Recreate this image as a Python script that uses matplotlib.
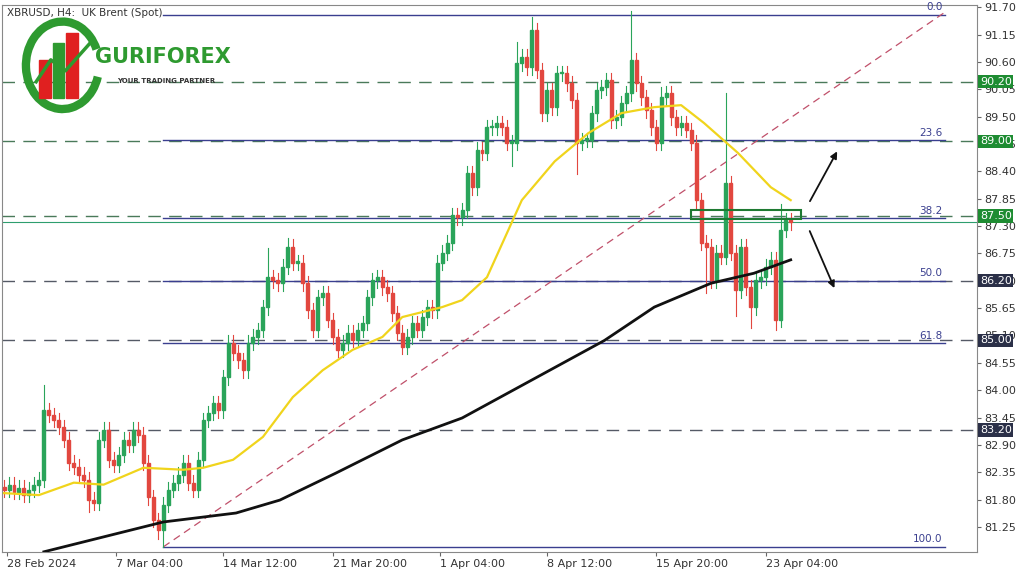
import matplotlib.pyplot as plt
from matplotlib.patches import Rectangle, Arc

# close prices, one candle per 5 px (H4 bars, thinned)
closes = [
    82.00, 82.10, 81.96, 82.04, 81.90, 82.00, 82.10, 82.20, 83.60, 83.50,
    83.40, 83.26, 83.00, 82.54, 82.46, 82.30, 82.20, 81.80, 81.74, 83.00,
    83.20, 82.60, 82.50, 82.70, 83.00, 82.90, 83.20, 83.10, 82.54, 81.85,
    81.39, 81.19, 81.70, 82.00, 82.14, 82.30, 82.54, 82.14, 82.00, 82.60,
    83.40, 83.54, 83.74, 83.60, 84.26, 84.95, 84.75, 84.60, 84.40, 84.95,
    85.07, 85.21, 85.67, 86.27, 86.21, 86.15, 86.48, 86.88, 86.56, 86.56,
    86.15, 85.61, 85.21, 85.87, 85.95, 85.41, 85.07, 84.81, 84.95, 85.15,
    85.01, 85.21, 85.35, 85.87, 86.21, 86.27, 86.07, 85.95, 85.55, 85.15,
    84.87, 85.07, 85.35, 85.21, 85.47, 85.67, 85.61, 86.56, 86.76, 86.96,
    87.52, 87.48, 87.62, 88.36, 88.08, 88.83, 88.77, 89.29, 89.29, 89.37,
    89.29, 88.97, 88.97, 90.57, 90.70, 90.49, 91.24, 90.43, 89.57, 90.03,
    89.69, 90.37, 90.37, 90.17, 89.83, 88.97, 89.03, 89.03, 89.57, 90.03,
    90.09, 90.23, 89.43, 89.49, 89.77, 89.97, 90.63, 90.17, 89.89, 89.63,
    89.29, 88.97, 89.89, 89.97, 89.49, 89.29, 89.37, 89.23, 88.97, 87.82,
    86.96, 86.88, 86.21, 86.76, 86.68, 88.16, 86.76, 86.01, 86.88, 86.07,
    85.67, 86.21, 86.27, 86.48, 86.62, 85.41, 87.22, 87.42, 87.38,
]
first_open = 82.05
wick = 0.15
# notable wick extremes: candle index -> price
spike_highs = {8: 84.10, 53: 86.85, 57: 87.05, 103: 91.00, 106: 91.50, 126: 91.62,
               145: 89.97, 132: 90.10, 156: 87.75}
spike_lows = {17: 81.55, 32: 80.85, 31: 81.00, 102: 88.50, 115: 88.35, 141: 85.95,
              150: 85.25, 155: 85.20, 147: 85.50}

# moving averages (candle index, price)
ma_fast_x = [0, 7, 14, 20, 28, 36, 40, 46, 52, 58, 64, 70, 76, 80, 84, 88, 92, 97,
             104, 110.6, 117.4, 124, 130.6, 136, 140.6, 147.4, 154, 158]
ma_fast_y = [81.93, 81.89, 82.14, 82.10, 82.44, 82.40, 82.44, 82.60, 83.06, 83.86,
             84.40, 84.81, 85.07, 85.47, 85.57, 85.67, 85.81, 86.27, 87.82, 88.60,
             89.17, 89.57, 89.69, 89.73, 89.37, 88.77, 88.08, 87.82]
ma_slow_x = [8, 20, 32, 46.6, 55.4, 66.6, 80, 92, 120.6, 130.6, 142, 150.6, 158]
ma_slow_y = [80.75, 81.05, 81.35, 81.53, 81.79, 82.33, 83.00, 83.44, 85.00, 85.67,
             86.15, 86.35, 86.62]

fib_levels = [91.55, 89.02, 87.46, 86.20, 84.94, 80.85]
fib_labels = ["0.0", "23.6", "38.2", "50.0", "61.8", "100.0"]
key_levels = [90.20, 89.00, 87.50, 86.20, 85.00, 83.20]
key_colors = ["#1e8c32", "#1e8c32", "#1e8c32", "#2b3048", "#2b3048", "#2b3048"]
y_ticks = [91.70, 91.15, 90.60, 90.05, 89.50, 88.95, 88.40, 87.85, 87.30, 86.75,
           86.20, 85.65, 85.10, 84.55, 84.00, 83.45, 82.90, 82.35, 81.80, 81.25]
date_pos = [0.6, 22.4, 44, 66, 87.6, 109, 131, 153]
date_labels = ["28 Feb 2024", "7 Mar 04:00", "14 Mar 12:00", "21 Mar 20:00",
               "1 Apr 04:00", "8 Apr 12:00", "15 Apr 20:00", "23 Apr 04:00"]

GREEN = "#2aa45a"
RED = "#e2473f"
NAVY = "#3a3f8f"

fig = plt.figure(figsize=(10.24, 5.76), dpi=100)
ax = fig.add_axes([0.002, 0.042, 0.952, 0.949])
ax.set_xlim(-0.4, 195.4)
ax.set_ylim(80.75, 91.74)

# dashed key levels across the whole chart
for lvl, col in zip(key_levels, key_colors):
    ax.axhline(lvl, color="#4a7a5a" if col != "#2b3048" else "#555a66", lw=1,
               ls=(0, (9, 6)), zorder=1)
ax.axhline(87.38, color="#2e9e6e", lw=0.8, zorder=1)

# fibonacci lines
for lvl, lab in zip(fib_levels, fib_labels):
    ax.plot([32, 189], [lvl, lvl], color=NAVY, lw=1, zorder=2)
    ax.text(188.5, lvl + 0.05, lab, color=NAVY, fontsize=7.5, ha="right", va="bottom")

# trend line
ax.plot([32, 189], [80.85, 91.6], color="#c0506a", lw=0.9, ls=(0, (6, 4)), zorder=2)

# candles
prev = first_open
for i, c in enumerate(closes):
    o = prev
    hi = spike_highs.get(i, max(o, c) + wick)
    lo = spike_lows.get(i, min(o, c) - wick)
    col = GREEN if c >= o else RED
    ax.plot([i, i], [lo, hi], color=col, lw=0.8, zorder=3)
    ax.add_patch(Rectangle((i - 0.3, min(o, c)), 0.6, max(abs(c - o), 0.03),
                           color=col, zorder=4))
    prev = c

ax.plot(ma_fast_x, ma_fast_y, color="#f0d41c", lw=1.6, zorder=5)
ax.plot(ma_slow_x, ma_slow_y, color="#111111", lw=2, zorder=5)

# box and arrows
ax.add_patch(Rectangle((138, 87.45), 22, 0.17, fill=False, ec="#1e7a32", lw=1.5, zorder=6))
ax.annotate("", xy=(167.6, 88.85), xytext=(161.6, 87.75),
            arrowprops=dict(arrowstyle="-|>", color="#111111", lw=1.3))
ax.annotate("", xy=(167, 86.0), xytext=(161.6, 87.25),
            arrowprops=dict(arrowstyle="-|>", color="#111111", lw=1.3))

# axes styling
ax.yaxis.tick_right()
ax.set_yticks(y_ticks)
ax.set_yticklabels([f"{v:.2f}" for v in y_ticks], fontsize=8, color="#333333")
ax.set_xticks(date_pos)
ax.set_xticklabels(date_labels, fontsize=8, color="#333333", ha="left")
ax.tick_params(length=3, colors="#666666", labelcolor="#333333", pad=2)
for s in ax.spines.values():
    s.set_color("#888888")
    s.set_linewidth(0.8)

for lvl, col in zip(key_levels, key_colors):
    ax.text(1.003, lvl, f"{lvl:.2f}", transform=ax.get_yaxis_transform(),
            fontsize=8, color="white", va="center", ha="left", zorder=10,
            bbox=dict(boxstyle="square,pad=0.15", fc=col, ec="none"))

ax.text(0.005, 0.995, "XBRUSD, H4:  UK Brent (Spot)", transform=ax.transAxes,
        fontsize=7.5, color="#333333", va="top", ha="left")

# logo
ax.text(0.095, 0.905, "GURIFOREX", transform=ax.transAxes, fontsize=15,
        fontweight="bold", color="#2e9a30", va="center", family="DejaVu Sans")
ax.text(0.118, 0.862, "YOUR TRADING PARTNER", transform=ax.transAxes, fontsize=5,
        fontweight="bold", color="#333333", va="center")
ax.add_patch(Arc((0.062, 0.89), 0.075, 0.16, theta1=40, theta2=330,
                 transform=ax.transAxes, color="#2e9a30", lw=6, zorder=7))
for bx, bh, bc in [(0.038, 0.07, "#e02020"), (0.052, 0.10, "#2e9a30"), (0.066, 0.12, "#e02020")]:
    ax.add_patch(Rectangle((bx, 0.83), 0.012, bh, transform=ax.transAxes, color=bc, zorder=8))
ax.plot([0.035, 0.05, 0.065, 0.09], [0.86, 0.9, 0.88, 0.93], transform=ax.transAxes,
        color="#2e9a30", lw=2.5, zorder=9)

fig.savefig("out.png", dpi=100)
